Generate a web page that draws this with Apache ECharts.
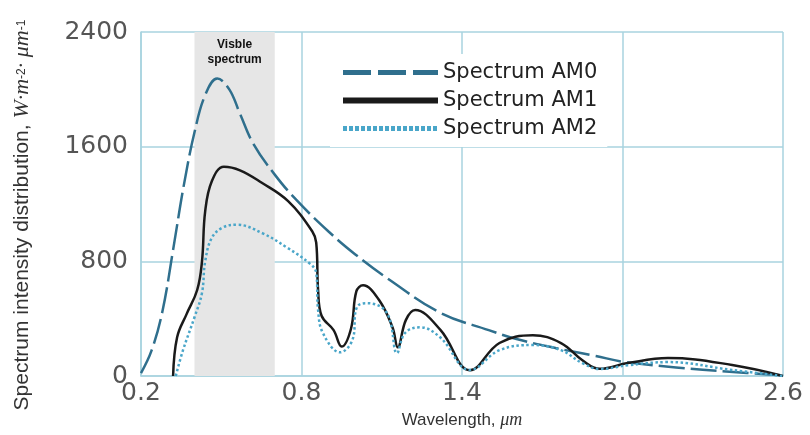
<!DOCTYPE html>
<html lang="en">
  <head>
    <meta charset="UTF-8" />
    <title>Solar spectrum</title>
    <script src="https://cdn.jsdelivr.net/npm/echarts@6.0.0/dist/echarts.min.js"></script>
    <style>
      html, body { margin: 0; padding: 0; background: #fff; }
    </style>
  </head>
  <body>
    <div id="spectrumChart" style="width: 810px; height: 435px"></div>

    <script type="text/javascript">
      // values (wavelength in um, intensity in W/m2/um)
      const am0X = [0.2, 0.24, 0.28, 0.32, 0.36, 0.4, 0.44, 0.485, 0.53, 0.57, 0.62, 0.7, 0.78, 0.9, 1.0, 1.13, 1.32, 1.5, 1.6, 1.75, 1.9, 2.0, 2.2, 2.4, 2.6];
      const am0Y = [20, 180, 450, 880, 1330, 1700, 1960, 2075, 2000, 1830, 1620, 1405, 1230, 1010, 850, 670, 440, 320, 260, 195, 140, 100, 60, 30, 5];

      const am1X = [0.32, 0.335, 0.37, 0.41, 0.428, 0.44, 0.465, 0.51, 0.57, 0.65, 0.75, 0.84, 0.855, 0.862, 0.875, 0.92, 0.95, 0.985, 1.005, 1.03, 1.09, 1.14, 1.16, 1.19, 1.225, 1.32, 1.43, 1.54, 1.665, 1.77, 1.85, 1.915, 2.02, 2.17, 2.41, 2.6];
      const am1Y = [0, 270, 430, 600, 800, 1150, 1360, 1460, 1435, 1350, 1220, 1010, 930, 600, 420, 320, 205, 330, 590, 633, 530, 340, 200, 390, 460, 320, 40, 230, 285, 230, 110, 50, 90, 125, 77, 0];

      const am2X = [0.33, 0.357, 0.4, 0.428, 0.44, 0.465, 0.507, 0.56, 0.655, 0.745, 0.83, 0.855, 0.862, 0.88, 0.944, 0.99, 1.007, 1.045, 1.12, 1.157, 1.187, 1.243, 1.318, 1.43, 1.54, 1.665, 1.77, 1.85, 1.915, 2.02, 2.17, 2.41, 2.6];
      const am2Y = [0, 180, 410, 580, 800, 965, 1037, 1055, 995, 897, 786, 720, 460, 300, 165, 250, 480, 508, 438, 160, 300, 340, 270, 42, 180, 216, 180, 90, 49, 75, 97, 42, 0];

      const xTicks = [0.2, 0.8, 1.4, 2.0, 2.6];
      const visibleBand = [0.4, 0.7];
      const seriesNames = ["Spectrum AM0", "Spectrum AM1", "Spectrum AM2"];

      const zip = (xs, ys) => xs.map((x, i) => [x, ys[i]]);

      const gridColor = "#a9d3df";

      const chart = echarts.init(document.getElementById("spectrumChart"));

      const option = {
        animation: false,
        grid: { left: 141, right: 27, top: 32, bottom: 59 },
        legend: {
          orient: "vertical",
          left: 330,
          top: 54,
          padding: [8, 10],
          backgroundColor: "#fff",
          itemWidth: 95,
          itemHeight: 8,
          itemGap: 7,
          // hide the little symbol legend draws in the middle of a line icon
          itemStyle: { color: "rgba(0,0,0,0)", borderWidth: 0, opacity: 0 },
          textStyle: {
            fontFamily: "DejaVu Sans",
            fontSize: 21,
            color: "#222",
            lineHeight: 21,
          },
          data: [
            { name: seriesNames[0], lineStyle: { width: 5, type: [28, 7] } },
            { name: seriesNames[1], lineStyle: { width: 6 } },
            { name: seriesNames[2], lineStyle: { width: 5, type: [4, 2] } },
          ],
        },
        xAxis: {
          type: "value",
          min: 0.2,
          max: 2.6,
          name: "{t|Wavelength, }{i|μm}",
          nameLocation: "middle",
          nameGap: 29,
          nameTextStyle: {
            rich: {
              t: { fontFamily: "Liberation Sans", fontSize: 17, color: "#333" },
              i: { fontFamily: "Liberation Serif", fontStyle: "italic", fontSize: 18, color: "#333" },
            },
          },
          axisLine: { lineStyle: { color: gridColor, width: 1.5 } },
          axisTick: { show: false, customValues: xTicks },
          axisLabel: {
            customValues: xTicks,
            formatter: (v) => v.toFixed(1),
            fontFamily: "DejaVu Sans",
            fontSize: 25,
            color: "#555",
            margin: 5,
          },
          splitLine: { show: true, lineStyle: { color: gridColor, width: 1.5 } },
        },
        yAxis: {
          type: "value",
          min: 0,
          max: 2400,
          interval: 800,
          name: "{t|Spectrum intensity distribution, }{i|W·m}{s|-2}{i|· μm}{s|-1}",
          nameLocation: "middle",
          nameGap: 107,
          nameTextStyle: {
            padding: [0, 22, 0, 0],
            rich: {
              t: { fontFamily: "Liberation Sans", fontSize: 21, color: "#333", height: 24 },
              i: { fontFamily: "Liberation Serif", fontStyle: "italic", fontSize: 22, color: "#333", height: 24 },
              s: { fontFamily: "Liberation Sans", fontSize: 12, color: "#333", verticalAlign: "top", height: 24 },
            },
          },
          axisLine: { show: true, lineStyle: { color: gridColor, width: 1.5 } },
          axisTick: { show: false },
          axisLabel: {
            formatter: (v) => String(v),
            fontFamily: "DejaVu Sans",
            fontSize: 25,
            color: "#555",
            margin: 13,
          },
          splitLine: { lineStyle: { color: gridColor, width: 1.5 } },
        },
        series: [
          {
            name: seriesNames[0],
            type: "line",
            smooth: 0.4,
            symbol: "none",
            z: 3,
            data: zip(am0X, am0Y),
            lineStyle: { color: "#2f6f8d", width: 2.5, type: [26, 6] },
            itemStyle: { color: "#1f6a8c" },
            markArea: {
              silent: true,
              itemStyle: { color: "#e6e6e6" },
              label: {
                show: true,
                position: "insideTop",
                distance: 5,
                formatter: "Visble\nspectrum",
                fontFamily: "Liberation Sans",
                fontWeight: "bold",
                fontSize: 12,
                lineHeight: 15,
                color: "#111",
              },
              data: [[{ xAxis: visibleBand[0] }, { xAxis: visibleBand[1] }]],
            },
          },
          {
            name: seriesNames[1],
            type: "line",
            smooth: 0.4,
            symbol: "none",
            z: 4,
            data: zip(am1X, am1Y),
            lineStyle: { color: "#1a1a1a", width: 2.5 },
            itemStyle: { color: "#1a1a1a" },
          },
          {
            name: seriesNames[2],
            type: "line",
            smooth: 0.4,
            symbol: "none",
            z: 5,
            data: zip(am2X, am2Y),
            lineStyle: { color: "#4aa6c9", width: 2.5, type: [2.5, 2.5] },
            itemStyle: { color: "#3aa0c8" },
          },
        ],
      };

      chart.setOption(option);
    </script>
  </body>
</html>
